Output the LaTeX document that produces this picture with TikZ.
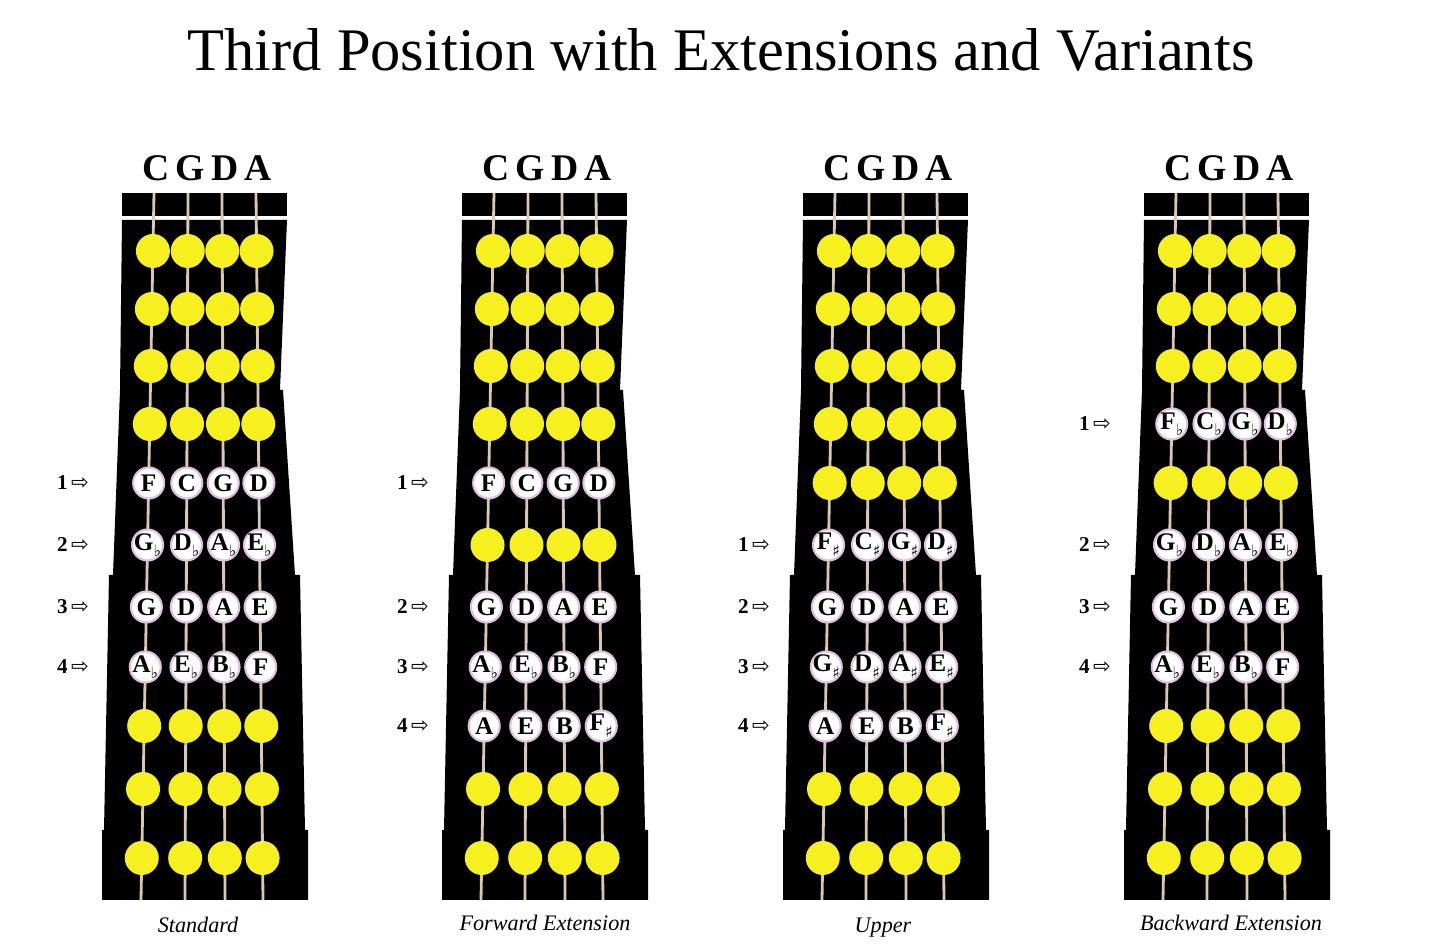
\documentclass[tikz,border=0pt]{standalone}
\usepackage{fontspec}
\setmainfont{Liberation Serif}
\newfontfamily\arrfont{DejaVu Sans}
\newfontfamily\symfont{DejaVu Serif}
\newcommand\fl{\raisebox{-0.5ex}{\symfont\fontsize{4.5}{5}\selectfont ♭}}
\newcommand\sh{\raisebox{-0.6ex}{\symfont\fontsize{4.5}{5}\selectfont ♯}}
\definecolor{dotY}{HTML}{F5F01E}
\definecolor{str}{HTML}{D9C9B4}
\newcommand\px{*0.01cm}
\tikzset{
 ydot/.style={circle,fill=dotY,minimum size=34\px,inner sep=0pt},
 wdot/.style={circle,fill=white,draw=violet!25,line width=0.6pt,minimum size=31\px,inner sep=0pt,font=\bfseries\fontsize{7.2}{7}\selectfont},
 fing/.style={font=\bfseries\fontsize{6}{6}\selectfont,anchor=center},
 captxt/.style={font=\itshape\fontsize{6.3}{7}\selectfont,anchor=base},
 hdr/.style={font=\bfseries\fontsize{10.7}{11}\selectfont}
}
\def\Yy{Y}
\newcommand\board[3]{% #1 offset, #2 rows, #3 finger labels
 \begin{scope}[xshift=#1*0.01cm]
 \fill[black] (122,220) -- (287,220) -- (280,390) -- (283,390) -- (295,575) -- (300,575) -- (305,830) -- (308,830) -- (308,900) -- (102,900) -- (102,830) -- (104,830) -- (109,575) -- (113,575) -- (120,390) -- cycle;
 \fill[black] (122,193) rectangle (287,216);
 \foreach \s/\xt/\xb in {1/154/141,2/188/185,3/222/225,4/256/263}
   \draw[str,line width=0.8pt] (\xt,193) -- (\xb,900);
 \foreach \y/\a/\b/\c/\d in {#2}{
   \foreach \s/\xt/\xb/\t in {1/154/141/\a,2/188/185/\b,3/222/225/\c,4/256/263/\d}{
     \pgfmathsetmacro\xx{\xt+(\xb-\xt)*(\y-193)/707}
     \ifx\a\Yy \node[ydot] (b#1-\y-\s) at (\xx,\y) {};
     \else \node[wdot] (b#1-\y-\s) at (\xx,\y) {\makebox[0pt]{\t}};\fi
   }}
 \foreach \n/\y in {#3} \node[fing] (f#1-\n) at (73,\y) {\n\,{\arrfont\mdseries ⇨}};
 \node[hdr] (h#1) at (207,168) {C\,G\,D\,A};
 \end{scope}}
\begin{document}
\begin{tikzpicture}[x=0.01cm,y=-0.01cm]
\useasboundingbox (0,0) rectangle (1429,952);
\node[font=\fontsize{17.2}{18}\selectfont] (title) at (721,50) {Third Position with Extensions and Variants};
\board{0}{251/Y/Y/Y/Y,309/Y/Y/Y/Y,366/Y/Y/Y/Y,424/Y/Y/Y/Y,483/F/C/G/D,545/G\fl/D\fl/A\fl/E\fl,607/G/D/A/E,667/A\fl/E\fl/B\fl/F,726/Y/Y/Y/Y,789/Y/Y/Y/Y,858/Y/Y/Y/Y}{1/483,2/545,3/607,4/667}
\board{340}{251/Y/Y/Y/Y,309/Y/Y/Y/Y,366/Y/Y/Y/Y,424/Y/Y/Y/Y,483/F/C/G/D,545/Y/Y/Y/Y,607/G/D/A/E,667/A\fl/E\fl/B\fl/F,726/A/E/B/F\sh,789/Y/Y/Y/Y,858/Y/Y/Y/Y}{1/483,2/607,3/667,4/726}
\board{681}{251/Y/Y/Y/Y,309/Y/Y/Y/Y,366/Y/Y/Y/Y,424/Y/Y/Y/Y,483/Y/Y/Y/Y,545/F\sh/C\sh/G\sh/D\sh,607/G/D/A/E,667/G\sh/D\sh/A\sh/E\sh,726/A/E/B/F\sh,789/Y/Y/Y/Y,858/Y/Y/Y/Y}{1/545,2/607,3/667,4/726}
\board{1022}{251/Y/Y/Y/Y,309/Y/Y/Y/Y,366/Y/Y/Y/Y,424/F\fl/C\fl/G\fl/D\fl,483/Y/Y/Y/Y,545/G\fl/D\fl/A\fl/E\fl,607/G/D/A/E,667/A\fl/E\fl/B\fl/F,726/Y/Y/Y/Y,789/Y/Y/Y/Y,858/Y/Y/Y/Y}{1/424,2/545,3/607,4/667}
\node[captxt] (c1) at (198,933) {Standard};
\node[captxt] (c2) at (545,931) {Forward Extension};
\node[captxt] (c3) at (883,933) {Upper};
\node[captxt] (c4) at (1231,931) {Backward Extension};
\end{tikzpicture}
\end{document}
